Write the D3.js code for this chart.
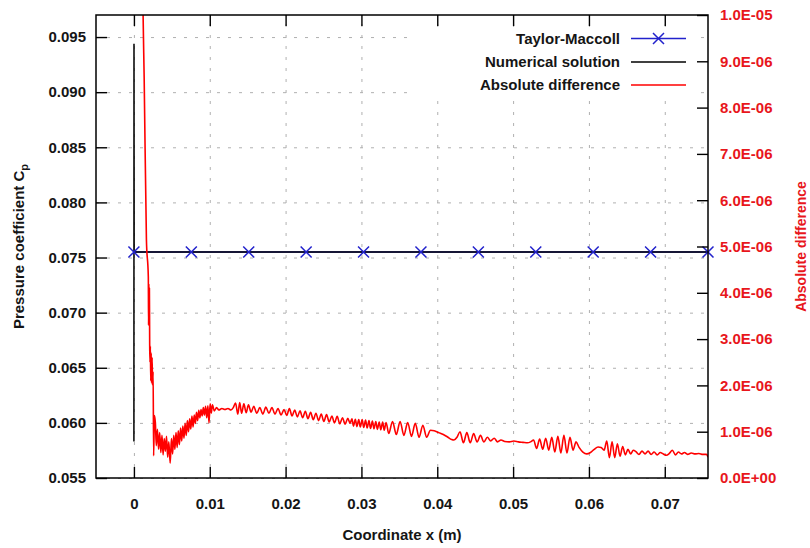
<!DOCTYPE html>
<html><head><meta charset="utf-8">
<script src="https://cdn.jsdelivr.net/npm/d3@7/dist/d3.min.js"></script>
<style>
html,body{margin:0;padding:0;background:#fff;}
svg{display:block;}
text{font-family:"Liberation Sans",Arial,Helvetica,sans-serif;font-weight:bold;}
</style></head><body>
<svg id="chart" width="810" height="548"></svg>
<script>
// ---------- data ----------
const xTicks = [0, 0.01, 0.02, 0.03, 0.04, 0.05, 0.06, 0.07];
const cpTicks = [0.055, 0.060, 0.065, 0.070, 0.075, 0.080, 0.085, 0.090, 0.095];
const diffTicks = [0, 1e-6, 2e-6, 3e-6, 4e-6, 5e-6, 6e-6, 7e-6, 8e-6, 9e-6, 1e-5];

const seriesNames = ["Taylor-Maccoll", "Numerical solution", "Absolute difference"];

// Taylor-Maccoll solution (x in m, Cp)
const tmX  = [0, 0.00757, 0.01514, 0.02271, 0.03028, 0.03785, 0.04542, 0.05299, 0.06056, 0.06813, 0.0757];
const tmCp = [0.0755, 0.0755, 0.0755, 0.0755, 0.0755, 0.0755, 0.0755, 0.0755, 0.0755, 0.0755, 0.0755];

// Numerical solution (x in m, Cp)
const numX  = [0, 0.00001, 0.00003, 0.0757];
const numCp = [0.0583, 0.0944, 0.0755, 0.0755];

// Absolute difference: [x in mm, difference in 1e-6]
const X_UNIT = 1e-3, DIFF_UNIT = 1e-6;
const diffData = [
[1.15,10.8],[1.21,10.0],[1.35,8.66],[1.65,5.14],[1.90,4.34],[1.93,3.3],[1.97,4.2],[2.00,3.4],[2.04,4.1],
[2.08,2.85],[2.12,2.5],[2.17,2.85],[2.22,2.1],[2.28,2.7],[2.34,2.05],[2.40,2.6],[2.46,2.0],[2.53,2.3],
[2.60,0.48],[2.70,1.35],[2.83,1.19],[2.95,0.70],[3.1,1.05],[3.25,0.62],[3.4,0.98],[3.55,0.55],[3.7,0.92],
[3.85,0.50],[4.0,0.85],[4.15,0.58],[4.3,0.90],[4.45,0.45],[4.6,0.78],[4.78,0.32],[4.95,0.85],[5.1,0.52],
[5.25,0.92],[5.4,0.62],[5.55,0.98],[5.7,0.66],[5.85,1.02],[6.0,0.72],[6.15,1.08],[6.3,0.80],[6.45,1.12],
[6.6,0.86],[6.75,1.18],[6.9,0.92],[7.05,1.24],[7.2,1.00],[7.35,1.28],[7.5,1.06],[7.65,1.34],[7.8,1.10],
[7.95,1.36],[8.1,1.18],[8.25,1.42],[8.4,1.24],[8.55,1.46],[8.7,1.30],[8.85,1.48],[9.0,1.34],[9.15,1.52],
[9.3,1.36],[9.45,1.55],[9.6,1.30],[9.75,1.56],[9.9,1.19],[10.05,1.60],[10.2,1.40],[10.35,1.58],[10.6,1.45],
[10.9,1.52],[11.2,1.47],[11.6,1.50],[12.0,1.48],[12.4,1.50],[12.8,1.47],[13.1,1.52],[13.4,1.62],[13.7,1.38],
[13.95,1.63],[14.2,1.40],[14.5,1.60],[14.8,1.41],[15.1,1.58],[15.45,1.42],[15.8,1.55],[16.2,1.40],[16.6,1.52],
[17.0,1.38],[17.4,1.53],[17.8,1.40],[18.2,1.52],[18.6,1.38],[19.0,1.50],[19.4,1.36],[19.8,1.48],[20.15,1.35],
[20.5,1.50],[20.85,1.34],[21.2,1.47],[21.55,1.32],[21.9,1.45],[22.25,1.30],[22.6,1.44],[22.95,1.28],[23.3,1.42],
[23.65,1.26],[24.0,1.40],[24.35,1.24],[24.7,1.38],[25.05,1.22],[25.4,1.37],[25.75,1.21],[26.1,1.34],[26.45,1.19],
[26.8,1.33],[27.15,1.17],[27.5,1.30],[27.85,1.16],[28.2,1.29],[28.5,1.18],[28.75,1.28],[28.95,1.12],[29.2,1.27],
[29.4,1.11],[29.65,1.26],[29.85,1.10],[30.1,1.26],[30.3,1.09],[30.55,1.25],[30.75,1.08],[31.0,1.24],[31.2,1.07],
[31.45,1.23],[31.65,1.06],[31.9,1.22],[32.1,1.05],[32.35,1.21],[32.55,1.04],[32.8,1.21],[33.0,1.03],[33.25,1.20],
[33.6,0.96],[34.1,1.22],[34.6,0.94],[35.1,1.22],[35.6,0.92],[36.1,1.20],[36.6,0.90],[37.1,1.18],[37.6,0.88],
[38.1,1.14],[38.6,0.88],[39.1,1.03],[39.6,1.02],[40.2,0.98],[40.8,0.94],[41.4,0.88],[41.9,0.83],[42.2,0.82],
[42.6,0.88],[43.0,1.00],[43.45,0.76],[43.9,0.98],[44.35,0.76],[44.8,0.96],[45.25,0.78],[45.7,0.92],[46.15,0.78],
[46.6,0.88],[47.05,0.80],[47.5,0.86],[47.95,0.78],[48.4,0.82],[48.9,0.79],[49.5,0.78],[50.1,0.80],[50.7,0.78],
[51.3,0.77],[51.9,0.76],[52.3,0.78],[52.7,0.82],[53.1,0.64],[53.5,0.84],[53.9,0.62],[54.3,0.86],[54.7,0.60],
[55.1,0.88],[55.5,0.56],[55.9,0.90],[56.3,0.54],[56.7,0.92],[57.1,0.54],[57.5,0.88],[57.9,0.60],[58.3,0.78],
[58.7,0.66],[59.2,0.56],[59.7,0.52],[60.2,0.55],[60.7,0.62],[61.2,0.67],[61.6,0.66],[62.0,0.60],[62.35,0.80],
[62.7,0.44],[63.05,0.78],[63.4,0.44],[63.75,0.74],[64.1,0.47],[64.45,0.68],[64.8,0.50],[65.15,0.62],[65.5,0.52],
[65.85,0.60],[66.2,0.57],[66.6,0.51],[67.0,0.58],[67.4,0.52],[67.8,0.58],[68.2,0.51],[68.6,0.56],[69.0,0.50],
[69.4,0.55],[69.8,0.52],[70.2,0.49],[70.6,0.53],[71.0,0.60],[71.4,0.50],[71.8,0.56],[72.2,0.52],[72.6,0.55],
[73.0,0.51],[73.5,0.54],[74.0,0.52],[74.5,0.53],[75.0,0.51],[75.5,0.51],[75.7,0.45]
];

// ---------- drawing ----------
const BLUE = "#2222cc", RED = "#ff0000", RED_TEXT = "#e8161c", INK = "#151515";
const plot = {left: 96, right: 708, top: 15, bottom: 478};
const svg = d3.select("#chart");

const x  = d3.scaleLinear().domain([-0.005, 0.0757]).range([plot.left, plot.right]);
const y  = d3.scaleLinear().domain([0.055, 0.097]).range([plot.bottom, plot.top]);
const y2 = d3.scaleLinear().domain([0, 1e-5]).range([plot.bottom, plot.top]);

// grid
const gx = svg.append("g").attr("transform", `translate(0,${plot.bottom})`)
  .call(d3.axisBottom(x).tickValues(xTicks).tickSize(-(plot.bottom - plot.top)).tickFormat(""));
const gy = svg.append("g").attr("transform", `translate(${plot.left},0)`)
  .call(d3.axisLeft(y).tickValues(cpTicks).tickSize(-(plot.right - plot.left)).tickFormat(""));
[gx, gy].forEach(g => {
  g.select(".domain").remove();
  g.selectAll("text").remove();
  g.selectAll("line").attr("stroke", "#b0b0b0").attr("stroke-width", 1).attr("stroke-dasharray", "3,8");
});

// opaque legend background
svg.append("rect").attr("x", 414).attr("y", 28).attr("width", 280).attr("height", 70).attr("fill", "#fff");

// clip
svg.append("clipPath").attr("id", "clip").append("rect")
  .attr("x", plot.left).attr("y", plot.top).attr("width", plot.right - plot.left).attr("height", plot.bottom - plot.top);

const tmPts = tmX.map((d, i) => [d, tmCp[i]]);
const numPts = numX.map((d, i) => [d, numCp[i]]);
const diffPts = diffData.map(d => [d[0] * X_UNIT, d[1] * DIFF_UNIT]);

const lineL = d3.line().x(d => x(d[0])).y(d => y(d[1]));
const lineR = d3.line().x(d => x(d[0])).y(d => y2(d[1])).curve(d3.curveMonotoneX);

const gLines = svg.append("g").attr("clip-path", "url(#clip)");
gLines.append("path").datum(tmPts).attr("d", lineL).attr("fill", "none").attr("stroke", BLUE).attr("stroke-width", 1.5);
gLines.append("path").datum(numPts).attr("d", lineL).attr("fill", "none").attr("stroke", "#000").attr("stroke-width", 1.5);
gLines.append("path").datum(diffPts).attr("d", lineR).attr("fill", "none").attr("stroke", RED).attr("stroke-width", 1.6).attr("stroke-linejoin", "round");

const xMark = "M-5.5,-5.5L5.5,5.5M-5.5,5.5L5.5,-5.5";
svg.append("g").selectAll("path").data(tmPts).join("path")
  .attr("d", xMark).attr("transform", d => `translate(${x(d[0])},${y(d[1])})`)
  .attr("fill", "none").attr("stroke", BLUE).attr("stroke-width", 1.5);

// frame
svg.append("rect").attr("x", plot.left).attr("y", plot.top)
  .attr("width", plot.right - plot.left).attr("height", plot.bottom - plot.top)
  .attr("fill", "none").attr("stroke", "#000").attr("stroke-width", 1.5);

// axes
const sci = d => {
  if (d === 0) return "0.0E+00";
  const e = Math.floor(Math.log10(d) + 1e-9);
  const m = d / Math.pow(10, e);
  return m.toFixed(1) + "E" + (e < 0 ? "-" : "+") + String(Math.abs(e)).padStart(2, "0");
};
const aB = svg.append("g").attr("transform", `translate(0,${plot.bottom})`)
  .call(d3.axisBottom(x).tickValues(xTicks).tickSize(-11).tickPadding(20)
    .tickFormat(d => d === 0 ? "0" : d3.format(".2f")(d)));
const aT = svg.append("g").attr("transform", `translate(0,${plot.top})`)
  .call(d3.axisTop(x).tickValues(xTicks).tickSize(-11).tickFormat(""));
const aL = svg.append("g").attr("transform", `translate(${plot.left},0)`)
  .call(d3.axisLeft(y).tickValues(cpTicks).tickSize(-11).tickPadding(10).tickFormat(d3.format(".3f")));
const aR = svg.append("g").attr("transform", `translate(${plot.right},0)`)
  .call(d3.axisRight(y2).tickValues(diffTicks).tickSize(-11).tickPadding(12).tickFormat(sci));
[aB, aT, aL, aR].forEach(g => {
  g.select(".domain").remove();
  g.selectAll("line").attr("stroke", "#000").attr("stroke-width", 1.4);
  g.selectAll("text").attr("font-size", 15).attr("fill", INK)
    .attr("font-family", "'Liberation Sans',Arial,sans-serif").attr("font-weight", "bold");
});
aT.selectAll("text").remove();
aR.selectAll("text").attr("fill", RED_TEXT);

// axis titles
svg.append("text").attr("transform", `translate(${(plot.left + plot.right) / 2},540)`)
  .attr("text-anchor", "middle").attr("font-size", 15).attr("fill", INK).text("Coordinate x (m)");
const yt = svg.append("text").attr("transform", `translate(24,${(plot.top + plot.bottom) / 2}) rotate(-90)`)
  .attr("text-anchor", "middle").attr("font-size", 15).attr("fill", INK);
yt.append("tspan").text("Pressure coefficient C");
yt.append("tspan").attr("font-size", 11).attr("dy", 4).text("p");
svg.append("text").attr("transform", `translate(806,${(plot.top + plot.bottom) / 2}) rotate(-90)`)
  .attr("text-anchor", "middle").attr("font-size", 14).attr("fill", RED_TEXT).text("Absolute difference");

// legend
const legendRows = [
  {name: seriesNames[0], color: BLUE, marker: true, cy: 38.5},
  {name: seriesNames[1], color: "#000", marker: false, cy: 62},
  {name: seriesNames[2], color: RED, marker: false, cy: 85}
];
const lg = svg.append("g");
legendRows.forEach(r => {
  lg.append("text").attr("x", 620).attr("y", r.cy).attr("dy", "0.35em")
    .attr("text-anchor", "end").attr("font-size", 15).attr("fill", INK).text(r.name);
  lg.append("line").attr("x1", 631).attr("x2", 686).attr("y1", r.cy).attr("y2", r.cy)
    .attr("stroke", r.color).attr("stroke-width", 1.5);
  if (r.marker) lg.append("path").attr("d", xMark).attr("transform", `translate(658.5,${r.cy})`)
    .attr("fill", "none").attr("stroke", r.color).attr("stroke-width", 1.5);
});
</script>
</body></html>
